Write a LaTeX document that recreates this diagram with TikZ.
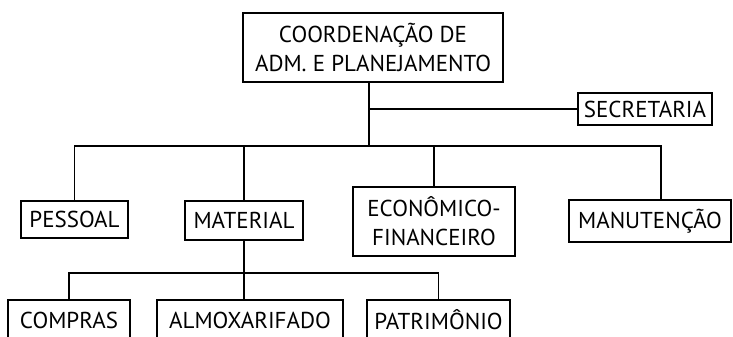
\documentclass[tikz,border=0pt]{standalone}
\usepackage{fontspec}
\setmainfont{PT Sans}
\begin{document}
\begin{tikzpicture}[x=1pt,y=-1pt,
  box/.style={draw,line width=1.3pt,inner sep=0pt,align=center,font=\fontsize{23}{29}\selectfont},
  conn/.style={line width=1.3pt}]
\clip (0,0) rectangle (733,337);
\fill[white] (0,0) rectangle (733,337);
\node[box,minimum width=260,minimum height=69] (top) at (373,47.5) {COORDENAÇÃO DE\\ADM. E PLANEJAMENTO};
\node[box,minimum width=134,minimum height=32] (sec) at (645,109) {SECRETARIA};
\node[box,minimum width=107,minimum height=37] (pes) at (74.5,219.5) {PESSOAL};
\node[box,minimum width=118,minimum height=39] (mat) at (244,220.5) {MATERIAL};
\node[box,minimum width=162,minimum height=69] (eco) at (434,221.5) {ECONÔMICO-\\FINANCEIRO};
\node[box,minimum width=162,minimum height=42] (man) at (650,221) {MANUTENÇÃO};
\node[box,minimum width=122,minimum height=40] (com) at (69,320) {COMPRAS};
\node[box,minimum width=186,minimum height=40] (alm) at (250,320) {ALMOXARIFADO};
\node[box,minimum width=143,minimum height=40] (pat) at (438.5,320) {PATRIMÔNIO};
\coordinate (t1) at (369,146);
\coordinate (b1r) at (661,146);
\coordinate (b2) at (244,273);
\draw[conn] (t1 |- top.south) -- (t1);
\draw[conn] (t1 |- sec.west) -- (sec.west);
\draw[conn] (pes.north) |- (b1r) -- (b1r |- man.north);
\draw[conn] (mat.north) -- (mat.north |- b1r);
\draw[conn] (eco.north) -- (eco.north |- b1r);
\draw[conn] (mat.south) -- (mat.south |- alm.north);
\draw[conn] (com.north) |- (b2) -| (pat.north);
\end{tikzpicture}
\end{document}
